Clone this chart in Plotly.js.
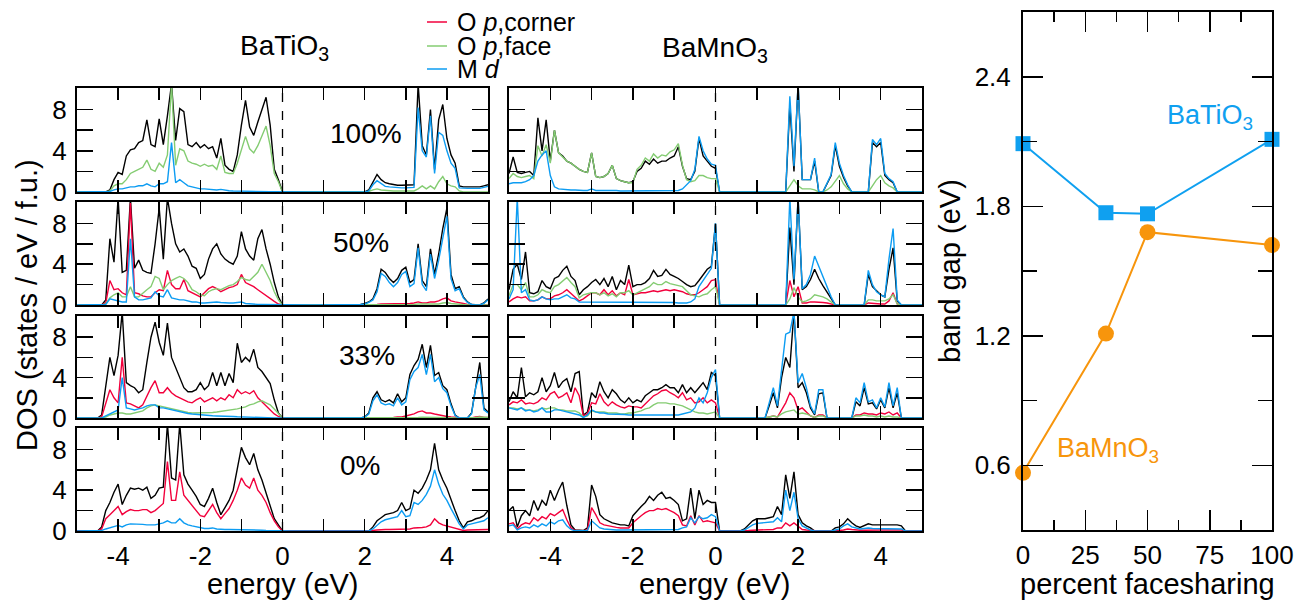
<!DOCTYPE html>
<html>
<head>
<meta charset="utf-8">
<script src="https://cdn.plot.ly/plotly-3.0.1.min.js"></script>
<style>html,body{margin:0;padding:0;background:#fff;}#chart{width:1307px;height:601px;}</style>
</head>
<body>
<div id="chart"></div>
<script>
// ---------- DATA ----------
const energy = [
 -5.0,-4.9,-4.8,-4.7,-4.6,-4.5,-4.4,-4.3,-4.2,-4.1,
 -4.0,-3.9,-3.8,-3.7,-3.6,-3.5,-3.4,-3.3,-3.2,-3.1,
 -3.0,-2.9,-2.8,-2.7,-2.6,-2.5,-2.4,-2.3,-2.2,-2.1,
 -2.0,-1.9,-1.8,-1.7,-1.6,-1.5,-1.4,-1.3,-1.2,-1.1,
 -1.0,-0.9,-0.8,-0.7,-0.6,-0.5,-0.4,-0.3,-0.2,-0.1,
 0.0,
 0.1,0.2,0.3,0.4,0.5,0.6,0.7,0.8,0.9,1.0,
 1.1,1.2,1.3,1.4,1.5,1.6,1.7,1.8,1.9,2.0,
 2.1,2.2,2.3,2.4,2.5,2.6,2.7,2.8,2.9,3.0,
 3.1,3.2,3.3,3.4,3.5,3.6,3.7,3.8,3.9,4.0,
 4.1,4.2,4.3,4.4,4.5,4.6,4.7,4.8,4.9,5.0];

// BaTiO3, 100% facesharing
const bto100Total = [
 0,0,0,0,0,0,0,0,0.2,1.2,
 1.9,1.7,3.5,4.1,4.2,4.8,5.0,7.0,4.6,4.4,
 7.1,4.6,7.4,10.5,5.0,8.1,7.8,4.6,4.4,4.8,
 4.3,4.6,4.2,4.4,3.3,5.2,2.6,2.2,2.0,3.6,
 6.5,8.9,6.3,5.5,6.8,8.0,9.2,6.5,2.2,1.2,
 0,
 0,0,0,0,0,0,0,0,0,0,
 0,0,0,0,0,0,0,0,0,0,
 0.2,1.0,1.7,1.2,0.9,0.8,0.7,0.65,0.65,0.65,
 0.65,0.7,10.5,4.5,3.6,8.0,2.2,7.0,8.5,5.2,
 3.6,2.8,0.6,0.5,0.5,0.5,0.5,0.5,0.6,0.7];
const bto100Face = [
 0,0,0,0,0,0,0,0,0.1,0.6,
 0.8,0.8,1.2,1.8,2.0,2.2,2.4,3.1,2.2,2.0,
 2.8,2.4,3.6,10.5,2.6,4.2,4.0,3.0,2.8,2.7,
 2.5,2.7,2.5,2.6,2.2,3.5,1.9,1.8,1.8,2.8,
 4.0,5.4,4.2,3.8,4.5,5.5,6.4,4.5,1.8,1.0,
 0,
 0,0,0,0,0,0,0,0,0,0,
 0,0,0,0,0,0,0,0,0,0,
 0.05,0.2,0.3,0.2,0.15,0.1,0.1,0.1,0.1,0.1,
 0.1,0.1,0.3,0.6,0.3,0.6,0.3,1.0,1.5,0.8,
 0.6,0.5,0.1,0,0,0,0,0,0,0];
const bto100Md = [
 0,0,0,0,0,0,0,0,0.05,0.2,
 0.3,0.3,0.4,0.5,0.5,0.6,0.6,0.8,0.6,0.5,
 0.8,0.8,1.0,4.8,0.9,1.2,0.9,0.6,0.5,0.4,
 0.3,0.3,0.25,0.2,0.2,0.25,0.15,0.12,0.1,0.1,
 0.1,0.1,0.08,0.06,0.05,0.05,0.05,0.03,0.02,0.01,
 0,
 0,0,0,0,0,0,0,0,0,0,
 0,0,0,0,0,0,0,0,0,0,
 0.1,0.7,1.1,0.8,0.55,0.5,0.45,0.4,0.4,0.4,
 0.4,0.45,8.2,4.0,3.4,7.4,1.8,5.8,5.5,4.0,
 2.8,2.3,0.4,0.35,0.35,0.35,0.35,0.35,0.45,0.55];

// BaTiO3, 50%
const bto50Total = [
 0,0,0,0,0,0,0,0.5,6.5,4.2,
 10.5,3.2,3.4,10.5,3.6,4.4,3.4,3.2,3.1,6.0,
 9.5,4.5,10.5,8.0,6.0,5.2,5.5,4.8,3.8,3.6,
 2.6,3.0,4.5,5.5,6.0,5.0,4.5,4.2,4.0,4.8,
 7.2,5.5,4.8,4.4,6.5,7.4,5.5,4.0,2.2,0.8,
 0,
 0,0,0,0,0,0,0,0,0,0,
 0,0,0,0,0,0,0,0,0.05,0.15,
 0.3,0.6,1.6,3.5,3.2,2.6,2.2,2.6,3.4,3.7,
 2.2,2.5,6.0,2.4,1.8,5.5,3.0,5.0,7.5,9.5,
 3.0,1.6,1.8,0.8,0.3,0.05,0,0,0.2,0.6];
const bto50Corner = [
 0,0,0,0,0,0,0,0.2,2.4,1.5,
 1.6,1.2,1.0,10.0,1.2,1.1,0.9,0.8,0.8,1.2,
 1.5,1.4,3.4,2.0,1.6,1.6,2.5,1.4,1.2,1.0,
 0.8,1.2,1.6,1.8,1.6,1.3,1.5,1.7,1.8,2.0,
 3.0,2.2,2.0,1.8,1.5,1.2,0.9,0.6,0.35,0.1,
 0,
 0,0,0,0,0,0,0,0,0,0,
 0,0,0,0,0,0,0,0,0,0,
 0,0.02,0.05,0.1,0.1,0.1,0.1,0.1,0.15,0.15,
 0.15,0.2,0.3,0.2,0.2,0.3,0.3,0.4,0.6,0.7,
 0.4,0.3,0.25,0.15,0.05,0,0,0,0,0];
const bto50Face = [
 0,0,0,0,0,0,0,0.1,0.7,1.0,
 1.2,0.8,0.8,1.8,0.8,0.8,1.2,1.5,1.8,2.8,
 2.6,1.5,2.0,2.4,2.6,2.8,2.6,2.2,1.5,1.3,
 1.0,0.9,1.3,1.5,1.6,1.5,1.7,1.9,2.0,2.3,
 2.7,2.5,2.4,2.8,3.2,4.0,3.2,2.4,1.3,0.5,
 0,
 0,0,0,0,0,0,0,0,0,0,
 0,0,0,0,0,0,0,0,0,0,
 0,0.02,0.03,0.05,0.05,0.05,0.05,0.05,0.05,0.05,
 0.05,0.05,0.1,0.1,0.1,0.1,0.1,0.1,0.2,0.25,
 0.15,0.1,0.1,0.05,0,0,0,0,0,0];
const bto50Md = [
 0,0,0,0,0,0,0,0.05,0.6,0.5,
 0.4,0.3,0.3,6.5,0.8,0.5,0.5,0.6,0.7,1.3,
 0.9,0.8,1.5,0.7,0.6,0.5,0.5,0.4,0.3,0.3,
 0.2,0.2,0.25,0.3,0.3,0.25,0.2,0.2,0.2,0.25,
 0.3,0.15,0.1,0.08,0.06,0.05,0.04,0.03,0.02,0.01,
 0,
 0,0,0,0,0,0,0,0,0,0,
 0,0,0,0,0,0,0,0,0.05,0.1,
 0.25,0.5,1.3,3.1,2.8,2.2,1.8,2.2,3.0,3.3,
 1.8,2.1,5.6,2.0,1.4,5.0,2.6,4.4,6.6,8.7,
 2.6,1.4,1.6,0.7,0.25,0.05,0,0,0.15,0.5];

// BaTiO3, 33%
const bto33Total = [
 0,0,0,0,0,0,0.3,3.0,6.0,4.2,
 6.2,10.5,3.5,3.2,3.0,2.5,2.8,5.5,8.0,9.5,
 7.5,6.2,9.4,6.0,5.0,4.0,3.0,2.6,2.6,2.8,
 3.5,2.8,3.2,4.5,3.2,4.5,3.2,4.4,3.5,7.4,
 5.5,6.0,5.6,6.8,5.0,4.6,4.0,3.4,1.8,0.5,
 0,
 0,0,0,0,0,0,0,0,0,0,
 0,0,0,0,0,0,0,0,0,0.1,
 0.5,2.0,2.6,1.8,1.6,1.8,1.5,2.4,1.6,2.0,
 4.3,5.2,5.8,7.3,5.0,7.2,4.2,4.5,3.2,2.8,
 1.4,0.3,0,0,0,0.5,3.2,5.5,1.0,0.6];
const bto33Corner = [
 0,0,0,0,0,0,0.1,1.5,2.8,2.0,
 1.5,6.0,1.5,1.4,1.2,1.0,1.3,2.2,3.0,3.7,
 2.5,2.5,3.0,2.5,2.2,2.0,1.8,1.6,1.5,1.8,
 2.0,1.6,1.8,2.0,1.7,2.0,1.8,2.3,2.0,2.8,
 2.4,2.6,2.4,2.7,2.0,1.6,1.2,0.8,0.4,0.15,
 0,
 0,0,0,0,0,0,0,0,0,0,
 0,0,0,0,0,0,0,0,0,0,
 0.05,0.05,0.05,0.05,0.05,0.05,0.05,0.1,0.1,0.2,
 0.3,0.4,0.6,0.7,0.5,0.5,0.4,0.3,0.2,0.15,
 0.1,0.05,0,0,0,0,0.1,0.15,0.05,0.05];
const bto33Face = [
 0,0,0,0,0,0,0,0.1,0.3,0.4,
 0.5,0.5,0.4,0.4,0.5,0.6,0.7,1.0,1.2,1.3,
 1.2,1.1,1.0,0.9,0.8,0.7,0.6,0.55,0.5,0.5,
 0.5,0.5,0.5,0.55,0.6,0.65,0.7,0.75,0.8,0.9,
 1.0,1.1,1.3,1.4,1.6,1.7,1.5,1.3,0.9,0.4,
 0,
 0,0,0,0,0,0,0,0,0,0,
 0,0,0,0,0,0,0,0,0,0,
 0,0.02,0.03,0.03,0.03,0.03,0.03,0.05,0.05,0.05,
 0.05,0.05,0.05,0.08,0.08,0.08,0.05,0.05,0.05,0.03,
 0.02,0,0,0,0,0,0.05,0.1,0.05,0.05];
const bto33Md = [
 0,0,0,0,0,0,0,0.2,0.4,0.6,
 0.8,4.0,1.0,0.9,0.8,0.9,1.0,1.2,1.3,1.3,
 1.0,1.0,0.9,0.8,0.7,0.6,0.5,0.45,0.4,0.35,
 0.3,0.28,0.25,0.22,0.2,0.2,0.18,0.16,0.15,0.12,
 0.1,0.08,0.07,0.06,0.05,0.04,0.03,0.02,0.01,0,
 0,
 0,0,0,0,0,0,0,0,0,0,
 0,0,0,0,0,0,0,0,0,0.1,
 0.4,1.7,2.3,1.5,1.3,1.4,1.2,2.0,1.3,1.6,
 3.8,4.6,5.0,6.3,4.3,6.3,3.6,4.0,2.9,2.5,
 1.2,0.25,0,0,0,0.4,3.0,4.3,0.8,0.5];

// BaTiO3, 0%
const bto0Total = [
 0,0,0,0,0,0,0.4,2.0,2.8,3.8,
 4.6,2.6,3.5,4.2,4.1,4.2,4.0,4.3,3.2,3.5,
 4.2,4.3,10.5,5.2,5.0,10.5,5.5,4.6,4.0,3.4,
 2.6,2.4,3.2,4.2,2.8,1.6,2.3,3.0,4.0,6.0,
 8.2,7.2,6.5,7.6,6.0,5.0,3.8,2.4,1.2,0.6,
 0,
 0,0,0,0,0,0,0,0,0,0,
 0,0,0,0,0,0,0,0,0,0,
 0,0.4,1.0,1.3,1.6,1.7,1.8,2.0,2.8,2.0,
 2.2,4.0,3.7,4.2,5.0,6.0,8.6,6.0,5.0,4.2,
 3.0,2.0,1.0,0.3,0.9,1.0,1.2,1.3,1.5,2.0];
const bto0Corner = [
 0,0,0,0,0,0,0.2,1.2,1.6,2.0,
 2.4,1.6,1.9,2.1,2.0,2.0,2.1,2.1,1.8,2.0,
 2.4,2.7,6.8,3.0,3.0,5.8,3.5,3.0,2.5,2.0,
 1.5,1.4,2.0,2.6,1.8,1.2,1.7,2.2,3.0,4.0,
 5.2,4.5,4.2,5.2,4.0,3.5,2.8,1.8,1.0,0.4,
 0,
 0,0,0,0,0,0,0,0,0,0,
 0,0,0,0,0,0,0,0,0,0,
 0,0.05,0.1,0.15,0.15,0.15,0.15,0.15,0.2,0.2,
 0.2,0.3,0.3,0.35,0.4,0.6,1.2,0.8,0.6,0.5,
 0.4,0.3,0.15,0.05,0.1,0.1,0.1,0.1,0.12,0.15];
const bto0Md = [
 0,0,0,0,0,0,0.05,0.2,0.3,0.45,
 0.55,0.4,0.6,0.7,0.7,0.7,0.65,0.6,0.6,0.6,
 0.7,0.8,1.0,0.8,0.8,1.2,0.8,0.6,0.5,0.4,
 0.3,0.25,0.25,0.3,0.2,0.15,0.15,0.15,0.15,0.15,
 0.15,0.15,0.12,0.12,0.1,0.08,0.06,0.04,0.02,0.01,
 0,
 0,0,0,0,0,0,0,0,0,0,
 0,0,0,0,0,0,0,0,0,0,
 0,0.2,0.6,0.9,1.1,1.2,1.3,1.4,2.0,1.4,
 1.5,2.8,2.6,3.0,3.6,4.4,6.0,4.6,3.6,3.0,
 2.2,1.4,0.7,0.2,0.6,0.7,0.8,0.9,1.0,1.3];

// BaMnO3, 100%
const bmo100Total = [
 1.8,3.4,1.9,1.8,1.9,2.0,1.6,7.2,4.0,7.0,
 3.0,6.0,3.8,3.5,3.0,2.8,2.5,2.2,2.0,1.9,
 3.8,1.5,1.4,1.5,1.8,2.6,1.3,1.1,1.0,0.9,
 1.0,2.0,2.3,3.0,2.7,3.2,2.8,3.0,3.0,3.3,
 3.5,4.4,2.5,1.3,1.2,2.0,5.2,3.5,3.0,2.5,
 2.3,
 0,0,0,0,0,0,0,0,0,0,
 0,0,0,0,0,0,0,8.5,2.0,10.5,
 1.2,1.2,1.2,3.0,0,0,0.8,1.6,4.5,2.5,
 1.4,0.6,0,0,0,0,0,4.8,4.4,4.8,
 1.6,1.2,0.9,0,0,0,0,0,0,0];
const bmo100Face = [
 1.3,1.8,1.5,1.4,1.5,1.6,1.3,4.5,3.5,4.6,
 2.8,6.0,3.8,3.4,3.0,2.8,2.5,2.2,2.0,1.9,
 3.8,1.5,1.4,1.5,1.8,2.6,1.3,1.1,1.0,0.9,
 0.9,2.2,2.6,3.3,3.0,3.7,3.3,3.6,3.5,3.9,
 4.1,4.7,2.6,1.2,1.0,1.1,1.6,1.6,1.4,1.3,
 1.3,
 0,0,0,0,0,0,0,0,0,0,
 0,0,0,0,0,0,0,0.6,1.2,0.6,
 0.3,0.3,0.3,0.2,0,0,0.2,0.5,1.0,1.6,
 0.8,0.3,0,0,0,0,0,0.6,1.2,1.6,
 0.9,0.6,0.4,0,0,0,0,0,0,0];
const bmo100Md = [
 0.8,0.9,0.9,0.9,1.0,1.2,1.6,3.0,3.6,4.0,
 1.6,0.5,0.3,0.25,0.2,0.2,0.2,0.15,0.15,0.15,
 0.3,0.15,0.15,0.15,0.15,0.2,0.15,0.1,0.1,0.1,
 0.1,0.1,0.1,0.1,0.1,0.1,0.1,0.1,0.1,0.1,
 0.1,0.15,0.3,0.7,1.1,2.2,5.4,4.0,3.2,2.7,
 2.6,
 0,0,0,0,0,0,0,0,0,0,
 0,0,0,0,0,0,0,9.3,2.5,10.5,
 1.2,1.2,1.2,3.3,0,0,0.8,1.7,4.8,2.8,
 1.6,0.7,0,0,0,0,0,5.1,4.6,5.2,
 1.8,1.3,1.0,0,0,0,0,0,0,0];

// BaMnO3, 50%
const bmo50Total = [
 1.5,3.5,4.0,2.5,5.2,1.2,1.1,1.3,2.4,1.8,
 1.6,2.6,2.8,3.4,3.8,2.8,2.4,1.0,1.5,1.8,
 2.2,2.5,2.0,2.6,1.8,2.8,1.5,2.4,2.0,3.9,
 1.8,2.0,2.0,2.2,2.6,3.4,2.8,2.9,3.5,3.0,
 2.8,2.6,2.3,2.0,1.8,1.9,2.4,2.9,3.5,3.8,
 8.0,
 0,0,0,0,0,0,0,0,0,0,
 0,0,0,0,0,0,0,7.6,2.0,10.5,
 1.5,1.8,2.5,3.5,2.6,1.9,1.3,0.6,0,0,
 0,0,0,0,0,0,3.0,1.8,1.4,1.0,
 0.8,3.5,5.6,0.4,0,0,0,0,0,0];
const bmo50Corner = [
 0.3,0.6,0.8,0.7,0.8,0.4,0.4,0.5,0.8,0.6,
 0.6,0.9,1.0,1.2,1.5,1.1,0.8,0.4,0.6,0.9,
 1.2,1.2,1.0,1.5,1.0,1.4,0.9,1.2,1.0,2.5,
 1.0,1.1,1.2,1.2,1.3,1.4,1.3,1.4,1.5,1.4,
 1.5,1.4,1.3,1.1,1.0,1.0,1.2,1.5,1.8,2.4,
 2.5,
 0,0,0,0,0,0,0,0,0,0,
 0,0,0,0,0,0,0,2.4,0.8,1.8,
 0.2,0.2,0.3,0.3,0.3,0.25,0.2,0.1,0,0,
 0,0,0,0,0,0,0.2,0.15,0.15,0.1,
 0.1,0.4,1.2,0.1,0,0,0,0,0,0];
const bmo50Face = [
 0.9,2.0,2.0,1.5,2.2,0.8,0.8,1.0,1.5,1.3,
 1.2,1.8,2.0,2.4,2.7,2.2,1.8,0.7,1.0,1.1,
 1.2,1.2,1.0,1.2,0.9,1.1,0.8,1.2,1.2,1.4,
 1.0,1.2,1.4,1.6,1.8,2.2,2.0,2.0,2.3,2.1,
 2.0,1.9,1.8,1.4,1.0,0.9,0.8,1.0,1.1,1.5,
 1.8,
 0,0,0,0,0,0,0,0,0,0,
 0,0,0,0,0,0,0,0.6,1.7,0.8,
 0.3,0.4,0.6,1.0,0.9,0.8,0.6,0.3,0,0,
 0,0,0,0,0,0,0.5,0.5,0.4,0.4,
 0.4,0.6,1.0,0.1,0,0,0,0,0,0];
const bmo50Md = [
 0.6,1.5,10.5,1.2,1.5,0.5,0.4,0.5,0.8,0.6,
 0.5,0.6,0.6,0.8,1.0,0.7,0.6,0.3,0.3,0.3,
 0.3,0.3,0.3,0.3,0.3,0.3,0.25,0.3,0.3,0.3,
 0.25,0.25,0.25,0.25,0.3,0.3,0.3,0.25,0.25,0.25,
 0.25,0.2,0.2,0.2,0.3,0.6,1.8,2.4,3.0,3.6,
 8.0,
 0,0,0,0,0,0,0,0,0,0,
 0,0,0,0,0,0,0,10.5,2.5,10.5,
 1.6,2.0,3.0,4.8,3.8,2.8,1.8,0.8,0,0,
 0,0,0,0,0,0,3.4,2.0,1.3,1.0,
 0.8,4.5,7.5,0.5,0,0,0,0,0,0];

// BaMnO3, 33%
const bmo33Total = [
 1.6,2.6,2.0,5.0,2.1,2.5,2.3,2.6,4.0,2.6,
 3.2,4.5,3.0,3.6,3.9,2.6,4.4,4.6,0.3,0.6,
 2.5,2.0,3.6,2.6,2.0,2.8,2.4,1.8,1.5,2.0,
 1.5,1.8,1.6,2.2,2.5,2.8,2.8,3.0,3.3,3.0,
 3.0,2.5,3.3,2.5,3.0,2.5,3.0,3.5,2.8,4.5,
 4.2,
 0,0,0,0,0,0,0,0,0,0,
 0,0,1.2,2.5,1.0,4.0,6.0,5.0,10.5,3.0,
 3.5,2.5,1.0,0.3,2.4,2.5,0,0,0,0,
 0,0,0,1.6,1.2,3.0,1.4,1.5,0.9,1.8,
 1.0,3.0,1.0,2.5,0,0,0,0,0,0];
const bmo33Corner = [
 1.3,1.6,1.5,1.8,1.4,1.5,1.4,1.6,2.0,1.8,
 2.4,2.6,2.0,2.2,2.5,1.5,3.0,2.2,0.2,0.4,
 1.5,1.4,2.4,1.6,1.2,1.6,1.3,1.1,1.0,1.2,
 1.1,1.1,1.0,1.4,1.9,2.2,2.4,2.7,2.8,2.5,
 2.3,2.0,2.5,1.8,2.0,1.5,1.6,2.0,1.5,1.8,
 1.5,
 0,0,0,0,0,0,0,0,0,0,
 0,0,0.1,0.2,0.1,0.8,1.5,2.5,2.0,0.8,
 1.0,0.6,0.2,0.05,0.3,0.3,0,0,0,0,
 0,0,0,0.3,0.3,0.5,0.4,0.4,0.3,0.5,
 0.4,0.6,0.3,0.5,0,0,0,0,0,0];
const bmo33Face = [
 1.0,1.0,0.9,1.0,0.8,0.8,0.7,0.8,1.0,0.9,
 1.0,1.0,0.8,0.8,0.7,0.7,0.7,0.5,0.1,0.2,
 0.7,0.6,0.6,0.6,0.5,0.5,0.5,0.4,0.4,0.5,
 0.5,0.6,0.7,0.9,1.0,1.3,1.5,1.5,1.5,1.4,
 1.4,1.3,1.2,1.0,0.8,0.6,0.5,0.5,0.4,0.5,
 0.6,
 0,0,0,0,0,0,0,0,0,0,
 0,0,0.1,0.2,0.1,0.4,0.6,0.7,0.8,0.4,
 0.5,0.4,0.2,0.05,0.2,0.2,0,0,0,0,
 0,0,0,0.2,0.2,0.3,0.2,0.2,0.1,0.2,
 0.1,0.2,0.1,0.1,0,0,0,0,0,0];
const bmo33Md = [
 1.0,0.9,0.8,1.0,0.7,0.8,0.6,0.7,1.0,0.6,
 0.6,0.8,0.8,0.7,0.6,0.5,0.4,0.3,0.05,0.3,
 0.8,0.6,0.5,0.5,0.4,0.4,0.4,0.35,0.35,0.3,
 0.3,0.3,0.3,0.3,0.3,0.3,0.3,0.3,0.3,0.3,
 0.3,0.3,0.4,0.5,0.6,1.0,2.0,1.5,2.5,4.0,
 4.8,
 0,0,0,0,0,0,0,0,0,0,
 0,0,1.5,3.0,1.2,5.0,8.3,8.5,10.5,3.5,
 4.4,3.0,1.2,0.4,2.8,2.8,0,0,0,0,
 0,0,0,2.0,1.5,3.5,1.6,1.8,1.0,2.0,
 1.1,3.5,1.2,3.0,0,0,0,0,0,0];

// BaMnO3, 0%
const bmo0Total = [
 2.0,2.4,0.4,1.5,2.0,1.5,3.0,2.0,3.0,2.5,
 4.0,3.0,4.0,4.8,2.5,0.6,0.1,0.05,0.05,0.3,
 4.5,3.4,1.6,1.2,1.0,0.8,0.7,0.6,0.6,0.5,
 1.5,2.0,2.4,2.8,3.4,3.0,3.5,3.8,3.2,3.3,
 3.0,2.6,1.0,1.2,4.2,1.2,4.0,2.6,3.0,2.8,
 2.8,
 0,0,0,0,0,0,0.2,0.6,1.0,1.2,
 1.2,1.2,1.3,1.4,2.4,1.6,5.5,3.2,5.8,1.6,
 0.8,0.5,0.3,0,0,0,0,0,0.3,0.4,
 0.7,1.2,0.8,0.5,0.35,0.5,0.7,0.6,0.6,0.6,
 0.6,0.6,0.6,0.6,0.5,0,0,0,0,0];
const bmo0Corner = [
 0.7,0.8,0.2,0.6,0.8,0.7,1.3,1.0,1.4,1.2,
 1.7,1.5,1.8,2.1,1.1,0.3,0.05,0.02,0.02,0.1,
 2.3,1.6,0.8,0.6,0.5,0.4,0.35,0.3,0.3,0.3,
 0.8,1.2,1.5,1.8,2.0,2.0,2.2,2.1,2.2,2.0,
 1.8,1.5,0.6,0.5,1.5,0.6,1.5,0.9,1.0,0.9,
 0.8,
 0,0,0,0,0,0,0.02,0.05,0.08,0.1,
 0.1,0.1,0.1,0.15,0.3,0.3,0.8,0.5,0.8,0.5,
 0.15,0.1,0.05,0,0,0,0,0,0.02,0.05,
 0.1,0.2,0.15,0.1,0.08,0.08,0.1,0.1,0.1,0.1,
 0.1,0.1,0.1,0.1,0.1,0,0,0,0,0];
const bmo0Md = [
 0.5,0.6,0.1,0.3,0.4,0.3,0.6,0.4,0.7,0.5,
 0.9,0.7,1.0,1.1,0.5,0.15,0.02,0.01,0.01,0.05,
 1.0,0.6,0.3,0.2,0.15,0.1,0.1,0.1,0.1,0.1,
 0.1,0.1,0.1,0.1,0.1,0.1,0.1,0.1,0.1,0.1,
 0.1,0.15,0.3,0.4,1.3,0.8,1.4,1.2,1.3,1.6,
 1.4,
 0,0,0,0,0,0,0.1,0.35,0.6,0.75,
 0.8,0.8,0.85,0.9,1.3,0.9,4.0,2.0,3.8,1.2,
 0.5,0.3,0.1,0,0,0,0,0,0.1,0.2,
 0.5,0.7,0.4,0.3,0.2,0.25,0.3,0.25,0.25,0.25,
 0.25,0.25,0.2,0.2,0.2,0,0,0,0,0];

// band gap vs. percent facesharing
const percentFacesharing = [0, 33.3, 50, 100];
const gapBaTiO3 = [2.09, 1.77, 1.765, 2.11];
const gapBaMnO3 = [0.565, 1.21, 1.68, 1.62];

const percentLabels = ["100%", "50%", "33%", "0%"];
const energyTicks = [-4,-3,-2,-1,0,1,2,3,4];
const energyTickText = ["-4","","-2","","0","","2","","4"];
const dosTicks = [0,2,4,6,8];
const dosTickText = ["0","","4","","8"];

// ---------- STYLE ----------
const W = 1307, H = 601;
const FONT = "Liberation Sans, Arial, Helvetica, sans-serif";
const C_TOTAL = "#000000", C_CORNER = "#f2003c", C_FACE = "#84cc72", C_MD = "#0c9cf2";
const C_BTO = "#0fa0f0", C_BMO = "#f7950c";
const TICK_FS = 26, TITLE_FS = 29;
const px = (x) => x / W;
const py = (y) => 1 - y / H;

const colX = [[77, 488], [509, 922]];
const rowY = [[88, 192], [202, 305], [316, 418], [428, 531]];

// panel order: row 0..3 (100,50,33,0), col 0 BaTiO3, col 1 BaMnO3
const panels = [
  [ {t: bto100Total, c: null, f: bto100Face, m: bto100Md}, {t: bmo100Total, c: null, f: bmo100Face, m: bmo100Md} ],
  [ {t: bto50Total, c: bto50Corner, f: bto50Face, m: bto50Md}, {t: bmo50Total, c: bmo50Corner, f: bmo50Face, m: bmo50Md} ],
  [ {t: bto33Total, c: bto33Corner, f: bto33Face, m: bto33Md}, {t: bmo33Total, c: bmo33Corner, f: bmo33Face, m: bmo33Md} ],
  [ {t: bto0Total, c: bto0Corner, f: null, m: bto0Md}, {t: bmo0Total, c: bmo0Corner, f: null, m: bmo0Md} ]
];

const traces = [];
const layout = {
  width: W, height: H,
  margin: {l: 0, r: 0, t: 0, b: 0, pad: 0},
  paper_bgcolor: "#ffffff", plot_bgcolor: "#ffffff",
  showlegend: false,
  font: {family: FONT, size: TICK_FS, color: "#000"},
  shapes: [], annotations: []
};

let n = 0;
for (let r = 0; r < 4; r++) {
  for (let c = 0; c < 2; c++) {
    n++;
    const s = n === 1 ? "" : String(n);
    const p = panels[r][c];
    const add = (y, color, w) => {
      if (!y) return;
      if (y.length !== energy.length) console.error("length mismatch", r, c, y.length);
      traces.push({x: energy, y: y, xaxis: "x" + s, yaxis: "y" + s, type: "scatter",
        mode: "lines", line: {color: color, width: w}, hoverinfo: "skip"});
    };
    add(p.t, C_TOTAL, 1.4);
    add(p.c, C_CORNER, 1.4);
    add(p.f, C_FACE, 1.4);
    add(p.m, C_MD, 1.4);
    layout["xaxis" + s] = {
      domain: [px(colX[c][0]), px(colX[c][1])], anchor: "y" + s,
      range: [-5, 5], tickmode: "array", tickvals: energyTicks, ticktext: energyTickText,
      ticks: "inside", ticklen: 12, tickwidth: 1.5, tickcolor: "#000",
      showline: true, linewidth: 2, linecolor: "#000", mirror: "ticks",
      showgrid: false, zeroline: false, showticklabels: r === 3,
      tickfont: {size: TICK_FS, family: FONT}, ticklabelstandoff: 1
    };
    layout["yaxis" + s] = {
      domain: [py(rowY[r][1]), py(rowY[r][0])], anchor: "x" + s,
      range: [0, 10.1], tickmode: "array", tickvals: dosTicks, ticktext: dosTickText,
      ticks: "inside", ticklen: 16, tickwidth: 1.5, tickcolor: "#000",
      showline: true, linewidth: 2, linecolor: "#000", mirror: "ticks",
      showgrid: false, zeroline: false, showticklabels: c === 0,
      tickfont: {size: TICK_FS, family: FONT}, ticklabelstandoff: 3
    };
    layout.shapes.push({type: "line", xref: "x" + s, yref: "y" + s + " domain",
      x0: 0, x1: 0, y0: 0, y1: 1, line: {color: "#000", width: 1.3, dash: "dash"}});
  }
}

// band-gap panel
traces.push({x: percentFacesharing, y: gapBaTiO3, xaxis: "x9", yaxis: "y9", type: "scatter",
  mode: "lines+markers", line: {color: C_BTO, width: 2}, cliponaxis: false,
  marker: {symbol: "square", size: 15, color: C_BTO}, hoverinfo: "skip"});
traces.push({x: percentFacesharing, y: gapBaMnO3, xaxis: "x9", yaxis: "y9", type: "scatter",
  mode: "lines+markers", line: {color: C_BMO, width: 2}, cliponaxis: false,
  marker: {symbol: "circle", size: 16, color: C_BMO}, hoverinfo: "skip"});
layout.xaxis9 = {
  domain: [px(1023), px(1272)], anchor: "y9", range: [0, 100],
  tickmode: "linear", tick0: 0, dtick: 25,
  ticks: "inside", ticklen: 20, tickwidth: 1.5, tickcolor: "#000",
  minor: {tickmode: "linear", tick0: 0, dtick: 12.5, ticks: "inside", ticklen: 10, tickwidth: 1.5, tickcolor: "#000"},
  showline: true, linewidth: 2, linecolor: "#000", mirror: "ticks",
  showgrid: false, zeroline: false, tickfont: {size: TICK_FS, family: FONT}, ticklabelstandoff: 1
};
layout.yaxis9 = {
  domain: [py(530), py(12)], anchor: "x9", range: [0.3, 2.7],
  tickmode: "linear", tick0: 0.6, dtick: 0.6, tickformat: ".1f",
  ticks: "inside", ticklen: 20, tickwidth: 1.5, tickcolor: "#000",
  minor: {tickmode: "linear", tick0: 0.3, dtick: 0.3, ticks: "inside", ticklen: 14, tickwidth: 1.5, tickcolor: "#000"},
  showline: true, linewidth: 2, linecolor: "#000", mirror: "ticks",
  showgrid: false, zeroline: false, tickfont: {size: TICK_FS, family: FONT}, ticklabelstandoff: 5
};

// ---------- TEXT ----------
const ann = (x, y, text, size, color, opts) => Object.assign({xref: "paper", yref: "paper", x: px(x), y: py(y),
  text: text, showarrow: false, xanchor: "center", yanchor: "middle",
  font: {family: FONT, size: size, color: color || "#000"}}, opts || {});

layout.annotations.push(ann(284, 47, "BaTiO<sub>3</sub>", 28));
layout.annotations.push(ann(715, 49, "BaMnO<sub>3</sub>", 28));
layout.annotations.push(ann(283, 584, "energy (eV)", TITLE_FS));
layout.annotations.push(ann(715, 584, "energy (eV)", TITLE_FS));
layout.annotations.push(ann(27, 305, "DOS (states / eV / f.u.)", TITLE_FS, "#000", {textangle: -90}));
layout.annotations.push(ann(1147, 584, "percent facesharing", TITLE_FS));
layout.annotations.push(ann(950, 271, "band gap (eV)", TITLE_FS, "#000", {textangle: -90}));
layout.annotations.push(ann(1210, 117, "BaTiO<sub>3</sub>", 27, C_BTO));
layout.annotations.push(ann(1108, 450, "BaMnO<sub>3</sub>", 27, C_BMO));

const pctPos = [[366, 133], [361, 243], [367, 355], [360, 465]];
percentLabels.forEach((t, i) => layout.annotations.push(ann(pctPos[i][0], pctPos[i][1], t, 28)));

// legend (drawn by hand)
const legendItems = [["O <i>p</i>,corner", C_CORNER, 22], ["O <i>p</i>,face", C_FACE, 46], ["M <i>d</i>", C_MD, 69]];
legendItems.forEach(([t, col, y]) => {
  layout.shapes.push({type: "line", xref: "paper", yref: "paper", x0: px(427), x1: px(447), y0: py(y), y1: py(y),
    line: {color: col, width: 1.5}});
  layout.annotations.push(ann(455, y, t, 25, "#000", {xanchor: "left"}));
});

Plotly.newPlot("chart", traces, layout, {staticPlot: true, displayModeBar: false});
</script>
</body>
</html>
